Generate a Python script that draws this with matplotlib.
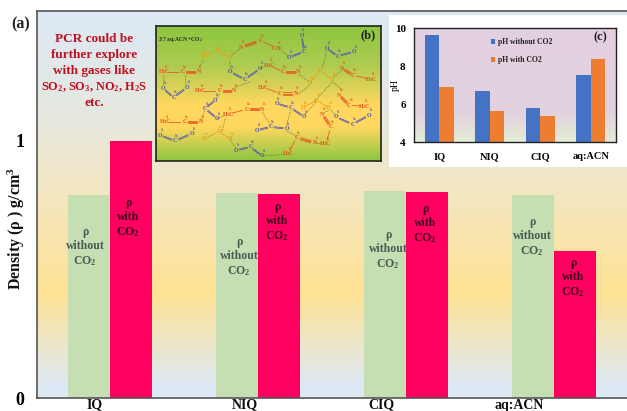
import numpy as np
import matplotlib
matplotlib.use('Agg')
import matplotlib.pyplot as plt
from matplotlib.colors import LinearSegmentedColormap
from matplotlib.patches import Rectangle

plt.rcParams['font.family'] = ['Liberation Serif', 'DejaVu Sans']
plt.rcParams['font.weight'] = 'bold'
plt.rcParams['mathtext.fontset'] = 'custom'
plt.rcParams['mathtext.rm'] = 'Liberation Serif:bold'
plt.rcParams['mathtext.it'] = 'Liberation Serif:bold'
plt.rcParams['mathtext.bf'] = 'Liberation Serif:bold'

W, H = 627, 411

# main chart
categories = ['IQ', 'NIQ', 'CIQ', 'aq:ACN']
rho_without = [0.79, 0.798, 0.805, 0.79]
rho_with = [1.0, 0.795, 0.80, 0.572]

# inset c
ph_without = [9.62, 6.7, 5.8, 7.5]
ph_with = [6.9, 5.65, 5.35, 8.35]

# inset b, molecules in crop pixels
acn = [
    [(42, 215, 'H$_3$C'), (98, 215, 'C'), (145, 215, 'N')],
    [(150, 272, 'H$_3$C'), (208, 272, 'C'), (252, 272, 'N')],
    [(45, 365, 'H$_3$C'), (103, 365, 'C'), (152, 365, 'N')],
    [(235, 342, 'H$_3$C'), (288, 327, 'C'), (335, 327, 'N')],
    [(340, 262, 'H$_3$C'), (388, 280, 'C'), (435, 280, 'N')],
    [(356, 195, 'H$_3$C'), (397, 215, 'C'), (443, 215, 'N')],
    [(380, 145, 'CH$_3$'), (330, 122, 'C'), (272, 142, 'N')],
    [(660, 238, 'H$_3$C'), (605, 225, 'C'), (575, 205, 'N')],
    [(640, 318, 'H$_3$C'), (595, 315, 'C'), (565, 285, 'N')],
    [(525, 430, 'H$_3$C'), (540, 380, 'C'), (515, 342, 'N')],
    [(412, 460, 'H$_3$C'), (438, 412, 'C'), (492, 428, 'N')],
]
co2 = [
    [(40, 265), (70, 292), (110, 262)],
    [(240, 215), (283, 238), (330, 205)],
    [(415, 172), (460, 155), (453, 105)],
    [(528, 145), (560, 168), (610, 155)],
    [(378, 310), (420, 322), (460, 350)],
    [(195, 300), (165, 325), (200, 355)],
    [(30, 405), (75, 422), (125, 400)],
    [(320, 390), (360, 380), (408, 385)],
    [(258, 450), (300, 440), (335, 467)],
    [(555, 350), (605, 372), (655, 345)],
]
water = [
    [(160, 170), (200, 150), (238, 172)],
    [(478, 248), (507, 212), (545, 238)],
    [(458, 322), (497, 300), (533, 322)],
    [(162, 415), (205, 395), (240, 415)],
]
hbonds = [
    (42, 225, 40, 258), (105, 225, 108, 255), (145, 205, 160, 180), (238, 182, 240, 208),
    (245, 165, 270, 145), (330, 205, 345, 195), (395, 155, 415, 168), (445, 222, 475, 245),
    (515, 205, 528, 150), (550, 230, 575, 208), (545, 245, 575, 270), (490, 305, 545, 245),
    (445, 280, 478, 255), (252, 262, 300, 245), (208, 282, 195, 295), (152, 358, 165, 330),
    (200, 355, 225, 345), (215, 395, 225, 355), (240, 420, 258, 445), (335, 335, 360, 375),
    (460, 345, 497, 305), (408, 375, 420, 330), (408, 392, 438, 408), (335, 467, 405, 462),
    (492, 428, 520, 432), (533, 330, 515, 340), (540, 330, 555, 345),
]


def px_axes(fig, x0, y0, x1, y1):
    return fig.add_axes([x0 / W, 1 - y1 / H, (x1 - x0) / W, (y1 - y0) / H])


# stops run from the top of the axes to the bottom
def gradient(ax, stops):
    cmap = LinearSegmentedColormap.from_list('g', stops)
    grad = np.linspace(0, 1, 256).reshape(-1, 1)
    ax.imshow(grad, cmap=cmap, aspect='auto', extent=(0, 1, 0, 1),
              transform=ax.transAxes, zorder=0, interpolation='bilinear')


def px_text(fig, x, y, s, **kw):
    kw.setdefault('ha', 'center')
    kw.setdefault('va', 'center')
    fig.text(x / W, 1 - y / H, s, **kw)


def bond(ax, p, q, n, color):
    p = np.array(p, dtype=float)
    q = np.array(q, dtype=float)
    d = q - p
    norm = np.hypot(d[0], d[1]) or 1.0
    perp = np.array([-d[1], d[0]]) / norm
    for k in np.linspace(-(n - 1) / 2, (n - 1) / 2, n):
        a = p + d * 0.22 + perp * k * 3.2
        b = q - d * 0.22 + perp * k * 3.2
        ax.plot([a[0], b[0]], [a[1], b[1]], color=color, lw=0.55, zorder=2)


def atom(ax, x, y, s, color, delta):
    ax.text(x, y, s, color=color, fontsize=4.2, ha='center', va='center', zorder=3)
    ax.text(x + 7, y - 15, delta, color=color, fontsize=2.8, ha='center', va='center', zorder=3)


def draw_molecules(ax):
    for x0, y0, x1, y1 in hbonds:
        ax.plot([x0, x1], [y0, y1], color='#5a6a30', lw=0.5, ls=(0, (1.5, 1.5)), zorder=1)
    for m in acn:
        c = '#e8501e'
        bond(ax, m[0][:2], m[1][:2], 1, c)
        bond(ax, m[1][:2], m[2][:2], 3, c)
        for x, y, s in m:
            atom(ax, x, y, s, c, 'δ+' if s == 'C' else 'δ-')
    for m in co2:
        c = '#4f55b5'
        bond(ax, m[0], m[1], 2, c)
        bond(ax, m[1], m[2], 2, c)
        for (x, y), s, dl in zip(m, 'OCO', ['δ-', 'δ+', 'δ-']):
            atom(ax, x, y, s, c, dl)
    for m in water:
        c = '#f09a10'
        bond(ax, m[0], m[1], 1, c)
        bond(ax, m[1], m[2], 1, c)
        for (x, y), s, dl in zip(m, 'HOH', ['δ+', 'δ-', 'δ+']):
            atom(ax, x, y, s, c, dl)


fig = plt.figure(figsize=(W / 100, H / 100), dpi=100)

# main density chart
ax = px_axes(fig, 37, 11, 640, 398)
gradient(ax, [(0, '#dde9f5'), (0.27, '#e6e8e0'), (0.45, '#f2e6c4'), (0.73, '#ffe294'),
              (0.97, '#dde9f5'), (1, '#dde9f5')])
x = np.arange(len(categories))
bw = 0.285
ax.bar(x - bw / 2, rho_without, bw, color='#c5deb2', zorder=2)
ax.bar(x + bw / 2, rho_with, bw, color='#ff0060', zorder=2)
ax.set_xlim(-0.493, 3.58)
ax.set_ylim(0, 1.505)
ax.set_yticks([0, 1])
ax.set_yticklabels(['0', '1'], fontsize=13)
ax.tick_params(axis='y', length=0, pad=9)
ax.set_xticks([])
for s in ['top', 'left', 'bottom']:
    ax.spines[s].set_color('#555555')
    ax.spines[s].set_linewidth(1.2)
ax.spines['right'].set_visible(False)

px_text(fig, 16, 228, 'Density (ρ ) g/cm$^3$', fontsize=11.5, rotation=90, color='#111111')

for cx, lab in zip([95, 245, 381, 519], categories):
    px_text(fig, cx, 405, lab, fontsize=10, color='#111111')

px_text(fig, 11, 24, '(a)', fontsize=11.5, color='#222222', ha='left')
red = '#c00f1e'
for y, s, fs in zip([39, 55, 71, 87, 103],
                    ['PCR could be', 'further explore', 'with gases like',
                     'SO$_2$, SO$_3$, NO$_2$, H$_2$S', 'etc.'],
                    [9.5, 9.5, 9.5, 8.8, 9.5]):
    px_text(fig, 94, y, s, fontsize=fs, color=red)

without_txt = 'ρ\nwithout\nCO$_2$'
with_txt = 'ρ\nwith\nCO$_2$'
for cx, cy in zip([85, 239, 388, 532], [247, 257, 250, 237]):
    px_text(fig, cx, cy, without_txt, fontsize=8.5, color='#4a5a55', linespacing=1.2)
for cx, cy in zip([128, 277, 425, 573], [218, 222, 224, 278]):
    px_text(fig, cx, cy, with_txt, fontsize=8.5, color='#3a0020', linespacing=1.2)

# inset b
axb = px_axes(fig, 156, 26, 381, 161)
gradient(axb, [(0, '#8cc63f'), (0.3, '#b0cc50'), (0.58, '#ffd75e'), (0.75, '#ffd75e'), (1, '#8cc63f')])
draw_molecules(axb)
axb.set_xlim(18, 690)
axb.set_ylim(482, 78)
axb.set_xticks([])
axb.set_yticks([])
for s in axb.spines.values():
    s.set_color('#222222')
    s.set_linewidth(1.2)
axb.text(24, 117, '3:7 aq:ACN +CO$_2$', fontsize=4, ha='left', va='center', color='#222222')
axb.text(650, 107, '(b)', fontsize=9, ha='center', va='center', color='#222222')

# inset c
fig.add_artist(Rectangle((389 / W, 1 - 167 / H), 240 / W, 152 / H, transform=fig.transFigure,
                         facecolor='white', edgecolor='none', zorder=1))
axc = px_axes(fig, 414, 28, 616, 142)
axc.set_zorder(2)
gradient(axc, [(0, '#e2cfe0'), (0.75, '#e2d2df'), (0.94, '#e2e6d6'), (1, '#e2efd9')])
xc = np.arange(len(categories))
axc.bar(xc - bw / 2, ph_without, bw, color='#4472c4', zorder=2, label='pH without CO2')
axc.bar(xc + bw / 2, ph_with, bw, color='#ed7d31', zorder=2, label='pH with CO2')
axc.set_xlim(-0.5, 3.5)
axc.set_ylim(4, 10)
axc.set_yticks([4, 6, 8, 10])
axc.set_xticks(xc)
axc.set_xticklabels(categories, fontsize=7.5)
axc.tick_params(axis='y', length=0, labelsize=8, pad=6)
axc.tick_params(axis='x', length=0, pad=7)
axc.set_ylabel('pH', fontsize=7)
axc.yaxis.set_label_coords(-0.07, 0.5)
for s in axc.spines.values():
    s.set_color('#222222')
    s.set_linewidth(1.0)
axc.legend(loc='upper left', bbox_to_anchor=(0.36, 0.945), frameon=False, fontsize=5.5,
           handlelength=0.6, handleheight=0.7, handletextpad=0.4, labelspacing=1.35,
           borderpad=0, labelcolor='#222222')
axc.text(3.2, 9.5, '(c)', fontsize=9, ha='center', va='center', color='#222222')

fig.savefig('out.png', dpi=100)
